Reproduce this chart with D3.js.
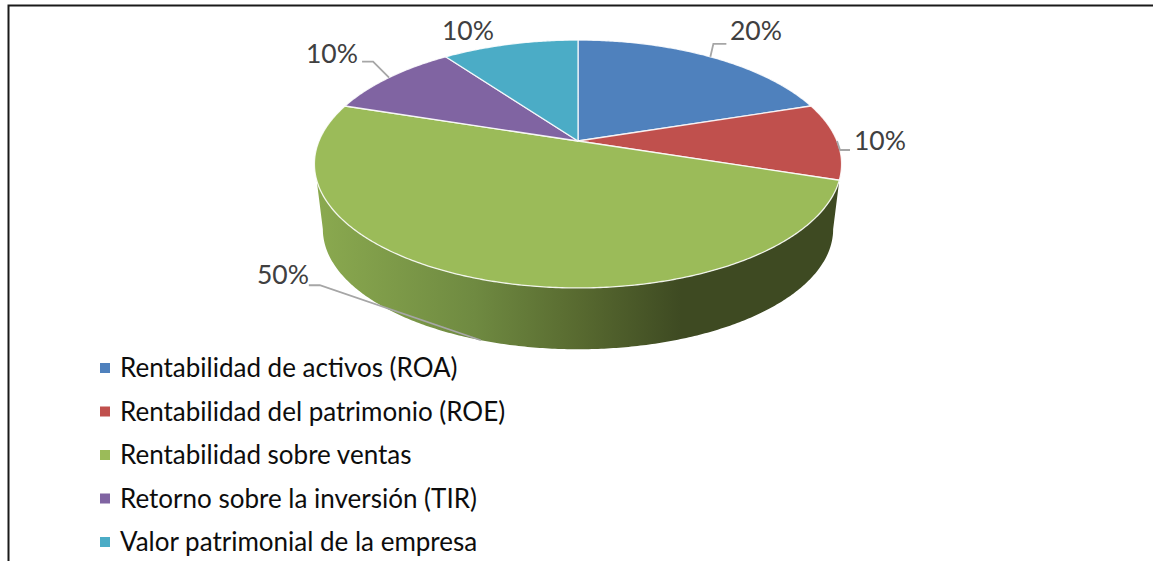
<!DOCTYPE html>
<html>
<head>
<meta charset="utf-8">
<script src="https://cdn.jsdelivr.net/npm/d3@7"></script>
<style>
    body { margin: 0; background: #fff; }
    svg { display: block; }
    text { font-family: Lato, "Open Sans", sans-serif; }
    .pct { font-size: 26.5px; fill: #404040; }
    .legend { font-size: 26px; fill: #0d0d0d; }
    .leader { fill: none; stroke: #a6a6a6; stroke-width: 1.8px; }
</style>
</head>
<body>
<svg width="1153" height="561"></svg>
<script>
var categories = [
    'Rentabilidad de activos (ROA)',
    'Rentabilidad del patrimonio (ROE)',
    'Rentabilidad sobre ventas',
    'Retorno sobre la inversión (TIR)',
    'Valor patrimonial de la empresa'
];
var values = [20, 10, 50, 10, 10];
var labels = ['20%', '10%', '50%', '10%', '10%'];
var colors = ['#4f81bd', '#c0504d', '#9bbb59', '#8064a2', '#4bacc6'];

var svg = d3.select('svg');

// **** Pie angles, then a perspective tilt instead of a flat ellipse ****

var pie = d3.pie().sort(null).value(function(d){ return d; });
var arcs = pie(values);

var cx = 578, cy = 141;
var rx = 259, ry = 119.7, persp = 0.1855;
var depth = 66, bottomScale = 0.968;

function project(angle, dy, scale) {
    var u = Math.sin(angle), v = Math.cos(angle);
    var w = 1 + persp * v;
    return [cx + scale * rx * u / w, cy + dy - scale * ry * v / w];
}

function topPt(angle) { return project(angle, 0, 1); }
function bottomPt(angle) { return project(angle, depth, bottomScale); }

function rim(a0, a1, fn) {
    var steps = Math.max(2, Math.ceil(Math.abs(a1 - a0) / 0.01));
    return d3.range(steps + 1).map(function(i){
        return fn(a0 + (a1 - a0) * i / steps);
    });
}

var line = d3.line();

// **** Side wall of the big slice ****

var defs = svg.append('defs');
var grad = defs.append('linearGradient')
    .attr('id', 'wall')
    .attr('gradientUnits', 'userSpaceOnUse')
    .attr('x1', cx - rx).attr('x2', cx + rx)
    .attr('y1', 0).attr('y2', 0);
grad.append('stop').attr('offset', '0%').attr('stop-color', '#8aa94f');
grad.append('stop').attr('offset', '30%').attr('stop-color', '#6f8a41');
grad.append('stop').attr('offset', '50%').attr('stop-color', '#586a30');
grad.append('stop').attr('offset', '70%').attr('stop-color', '#3e4a22');
grad.append('stop').attr('offset', '100%').attr('stop-color', '#3e4a22');

// wall runs from the right tip of the slice to its mirror on the left side
var green = arcs[2];
var tangent = Math.acos(-persp);
var wallPts = rim(green.startAngle, 2 * Math.PI - green.startAngle, topPt)
    .concat(rim(2 * Math.PI - tangent, tangent, bottomPt));

svg.append('path')
    .attr('d', line(wallPts) + 'Z')
    .attr('fill', 'url(#wall)');

// **** Top face ****

svg.selectAll('.slice')
    .data(arcs)
    .enter()
    .append('path')
    .attr('class', 'slice')
    .attr('d', function(d){
        return line([[cx, cy]].concat(rim(d.startAngle, d.endAngle, topPt))) + 'Z';
    })
    .attr('fill', function(d, i){ return colors[i]; })
    .attr('stroke', '#fff')
    .attr('stroke-opacity', 0.85)
    .attr('stroke-width', 1.3)
    .attr('stroke-linejoin', 'round');

// **** Leader lines, from the slice middle out to a knee next to the label ****

var leaders = [
    { i: 0, knee: [3, -13], end: [16, -13] },
    { i: 1, knee: [3, 9], end: [13, 9] },
    { i: 2, knee: [-161, -55], end: [-172, -55], lift: depth - 5 },
    { i: 3, knee: [-16, -16], end: [-27, -16] }
];

svg.selectAll('.leader')
    .data(leaders)
    .enter()
    .append('path')
    .attr('class', 'leader')
    .attr('d', function(d){
        var a = arcs[d.i];
        var p = topPt((a.startAngle + a.endAngle) / 2);
        p[1] += d.lift || 0;
        return line([p, [p[0] + d.knee[0], p[1] + d.knee[1]], [p[0] + d.end[0], p[1] + d.end[1]]]);
    });

// **** Percent labels ****

var labelPos = [[756, 40], [880, 150], [332, 63], [468, 40], [283, 284]];
var labelIdx = [0, 1, 3, 4, 2];

svg.selectAll('.pct')
    .data(labelIdx)
    .enter()
    .append('text')
    .attr('class', 'pct')
    .attr('text-anchor', 'middle')
    .attr('x', function(d, i){ return labelPos[i][0]; })
    .attr('y', function(d, i){ return labelPos[i][1]; })
    .text(function(d){ return labels[d]; });

// **** Legend ****

var legendY = d3.scalePoint().domain(categories).range([368, 542]);

var item = svg.selectAll('.item')
    .data(categories)
    .enter()
    .append('g')
    .attr('class', 'item')
    .attr('transform', function(d){ return 'translate(100,' + legendY(d) + ')'; });

item.append('rect')
    .attr('y', -5)
    .attr('width', 10)
    .attr('height', 10)
    .attr('fill', function(d, i){ return colors[i]; });

item.append('text')
    .attr('class', 'legend')
    .attr('x', 20)
    .attr('y', 9)
    .text(function(d){ return d; });

// **** Frame, only top and left are in the picture ****

svg.append('path')
    .attr('d', 'M8.5,561V5.5H1153')
    .attr('fill', 'none')
    .attr('stroke', '#1a1a1a')
    .attr('stroke-width', 2);
</script>
</body>
</html>
